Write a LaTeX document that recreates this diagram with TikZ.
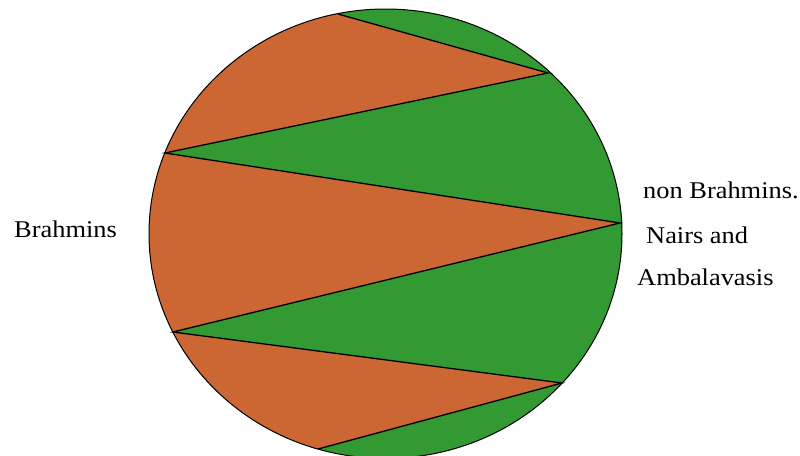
\documentclass[tikz,border=0pt]{standalone}
\usepackage{fontspec}
\setmainfont{Liberation Serif}
\usepackage{graphicx}
\usepackage{tikz}
\definecolor{Rust}{RGB}{204,102,51}
\definecolor{Leaf}{RGB}{51,153,51}

\begin{document}
\begin{tikzpicture}[x=1pt,y=-1pt,
    zig/.style={draw=black,line width=1.3pt},
    caste/.style={inner sep=0pt,anchor=base west,font=\fontsize{24}{28}\selectfont}]
  \useasboundingbox (0,0) rectangle (800,455);
  \coordinate (c) at (385.5,233.7);
  % zigzag corners on the rim
  \coordinate (p0) at (338,14);
  \coordinate (p1) at (548,73);
  \coordinate (p2) at (165,153);
  \coordinate (p3) at (620,223);
  \coordinate (p4) at (173,332);
  \coordinate (p5) at (562,383);
  \coordinate (p6) at (318,449);
  \begin{scope}
    \clip (c) ellipse [x radius=236.5pt, y radius=224.7pt];
    \fill[Leaf] (c) ellipse [x radius=240pt, y radius=230pt];
    \fill[Rust] (p0) -- (p1) -- (p2) -- (100,153) -- (100,-20) -- (338,-20) -- cycle;
    \fill[Rust] (p2) -- (p3) -- (p4) -- (100,332) -- (100,153) -- cycle;
    \fill[Rust] (p4) -- (p5) -- (p6) -- (318,480) -- (100,480) -- (100,332) -- cycle;
  \end{scope}
  \draw[zig] (p0) -- (p1) -- (p2) -- (p3) -- (p4) -- (p5) -- (p6);
  \draw[black,line width=1pt] (c) ellipse [x radius=236.5pt, y radius=224.7pt];
  \node[caste] (brahmins) at (14,237) {\scalebox{1.1}[1]{Brahmins}};
  \node[caste] (nonb) at (643,198) {\scalebox{1.1}[1]{non Brahmins.}};
  \node[caste] (nairs) at (646,243) {\scalebox{1.1}[1]{Nairs and}};
  \node[caste] (ambala) at (637,285) {\scalebox{1.1}[1]{Ambalavasis}};
\end{tikzpicture}
\end{document}
